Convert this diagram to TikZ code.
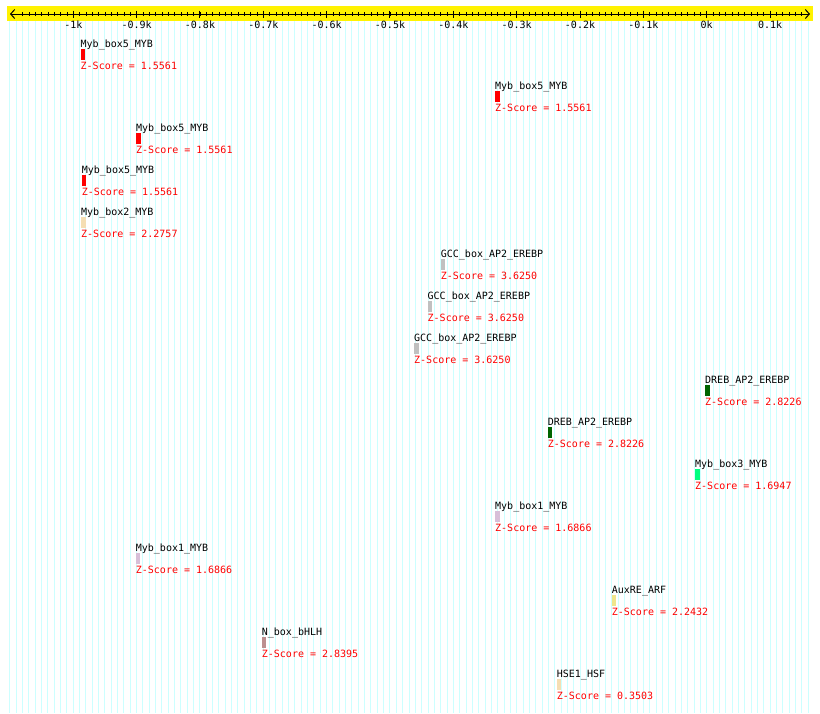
\documentclass[tikz,border=0pt]{standalone}
\usepackage{fontspec}
\setmonofont{DejaVu Sans Mono}
\usetikzlibrary{arrows.meta}
\definecolor{gridc}{HTML}{CCFFFF}
\definecolor{mybred}{HTML}{FF0000}
\definecolor{wheatc}{HTML}{F5DEB3}
\definecolor{gccgray}{HTML}{C0C0C0}
\definecolor{drebgreen}{HTML}{006400}
\definecolor{springc}{HTML}{00FF7F}
\definecolor{thistlec}{HTML}{D8BFD8}
\definecolor{khakic}{HTML}{F0E68C}
\definecolor{rosyc}{HTML}{BC8F8F}
\begin{document}
\begin{tikzpicture}[x=1pt,y=-1pt,
  lbl/.style={font=\ttfamily\fontsize{10}{12}\selectfont, inner sep=0pt, anchor=base west},
  zlbl/.style={lbl, text=red},
  featbar/.style={draw=none, inner sep=0pt, minimum width=4.5pt, minimum height=10.5pt, anchor=north west},
  ticklbl/.style={font=\ttfamily\fontsize{10}{12}\selectfont, inner sep=0pt, anchor=base},
  gridline/.style={draw=gridc, line width=1pt},
  axisline/.style={draw=black, line width=1pt},
  barb/.tip={Straight Barb[length=4pt,width=9pt,line width=1pt]}]
\useasboundingbox (0,0) rectangle (820,713);
\fill[white] (0,0) rectangle (820,713);
% background grid
\foreach \u in {-1100,-1090,...,160}
  \draw[gridline] ({706.7+0.6334*\u},21) -- ({706.7+0.6334*\u},713);
% axis band
\fill[yellow] (7,6) rectangle (813,21);
\coordinate (axL) at (10,14);
\coordinate (axR) at (810,14);
\draw[axisline, barb-barb] (axL) -- (axR);
\foreach \u in {-1080,-1070,...,150}
  \draw[axisline, line width=0.8pt] ({706.7+0.6334*\u},12) -- ({706.7+0.6334*\u},16);
\foreach \u/\t in {-1000/-1k,-900/-0.9k,-800/-0.8k,-700/-0.7k,-600/-0.6k,-500/-0.5k,-400/-0.4k,-300/-0.3k,-200/-0.2k,-100/-0.1k,0/0k,100/0.1k}{
  \draw[axisline] ({706.7+0.6334*\u},10.5) -- ({706.7+0.6334*\u},18);
  \node[ticklbl] (t\u) at ({706.7+0.6334*\u},28) {\t};
}
% features
\foreach \i/\x/\nm/\col/\sc in {
  1/80.5/Myb\_box5\_MYB/mybred/1.5561,
  2/495/Myb\_box5\_MYB/mybred/1.5561,
  3/136/Myb\_box5\_MYB/mybred/1.5561,
  4/81.7/Myb\_box5\_MYB/mybred/1.5561,
  5/81/Myb\_box2\_MYB/wheatc/2.2757,
  6/440.7/GCC\_box\_AP2\_EREBP/gccgray/3.6250,
  7/427.5/GCC\_box\_AP2\_EREBP/gccgray/3.6250,
  8/414/GCC\_box\_AP2\_EREBP/gccgray/3.6250,
  9/705/DREB\_AP2\_EREBP/drebgreen/2.8226,
  10/547.7/DREB\_AP2\_EREBP/drebgreen/2.8226,
  11/695/Myb\_box3\_MYB/springc/1.6947,
  12/495/Myb\_box1\_MYB/thistlec/1.6866,
  13/135.7/Myb\_box1\_MYB/thistlec/1.6866,
  14/611.7/AuxRE\_ARF/khakic/2.2432,
  15/261.7/N\_box\_bHLH/rosyc/2.8395,
  16/556.7/HSE1\_HSF/wheatc/0.3503}{
  \pgfmathsetmacro\yb{40+42*(\i-1)}
  \node[lbl] (n\i) at (\x,\yb+7.5) {\nm};
  \node[featbar, fill=\col] (b\i) at (\x,\yb+9) {};
  \node[zlbl] (z\i) at (\x,\yb+29.5) {Z-Score = \sc};
}
\end{tikzpicture}
\end{document}
